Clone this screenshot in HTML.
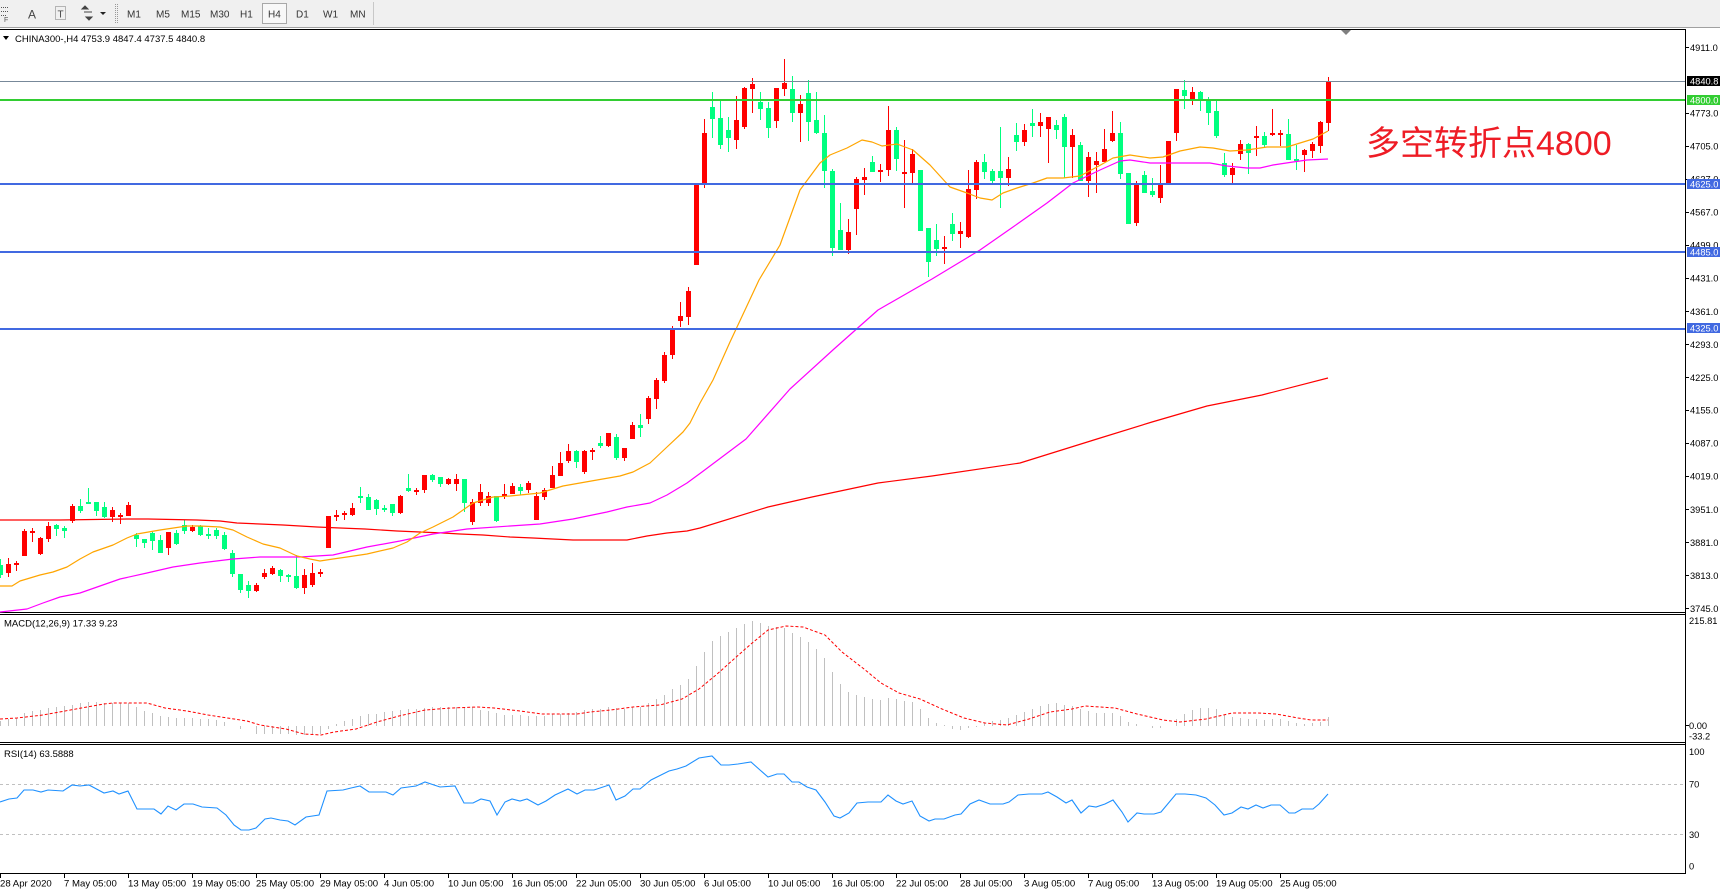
<!DOCTYPE html>
<html><head><meta charset="utf-8"><title>CHINA300 H4</title>
<style>
html,body{margin:0;padding:0;background:#fff;}
body{width:1720px;height:892px;overflow:hidden;}
svg{display:block;}
text{font-family:"Liberation Sans","Noto Sans CJK SC",sans-serif;}
</style></head>
<body>
<svg width="1720" height="892" viewBox="0 0 1720 892" xmlns="http://www.w3.org/2000/svg">
<rect x="0" y="0" width="1720" height="892" fill="#fff"/>
<!-- toolbar -->
<rect x="0" y="0" width="1720" height="27" fill="#f0f0f0"/>
<line x1="0" y1="27.5" x2="1720" y2="27.5" stroke="#a0a0a0"/>
<g fill="none" stroke="#555" stroke-width="1" shape-rendering="crispEdges">
<path d="M1 7.5h8M1 11.5h8M1 15.5h6" stroke-dasharray="1,1"/>
<path d="M55.5 6.5h10v13h-10z" stroke-dasharray="1,1" stroke="#777"/>
<path d="M115.5 4v19" stroke="#999" stroke-dasharray="1,1"/>
<path d="M117.5 4v19" stroke="#999" stroke-dasharray="1,1"/>
<path d="M373.5 2v23" stroke="#c8c8c8"/>
</g>
<text x="4" y="22" font-size="7" fill="#555">F</text>
<text x="28" y="18.5" font-size="12" fill="#444">A</text>
<text x="57.5" y="17.5" font-size="10" fill="#444">T</text>
<path d="M82 9l3-3 3 3zM86 17l3 3 3-3zM84 12h8" fill="#444" stroke="#444" stroke-width="1"/>
<path d="M100 12h6l-3 3z" fill="#222"/>
<rect x="262.5" y="3.5" width="24" height="20" fill="#f8f8f8" stroke="#a8a8a8"/>
<g font-size="10" fill="#333">
<text x="127" y="17.5">M1</text>
<text x="156" y="17.5">M5</text>
<text x="181" y="17.5">M15</text>
<text x="210" y="17.5">M30</text>
<text x="240" y="17.5">H1</text>
<text x="268" y="17.5">H4</text>
<text x="296" y="17.5">D1</text>
<text x="323" y="17.5">W1</text>
<text x="350" y="17.5">MN</text>
</g>
<!-- frames -->
<g stroke="#000" stroke-width="1" shape-rendering="crispEdges" fill="none">
<line x1="0" y1="29.5" x2="1686" y2="29.5"/>
<line x1="0" y1="612.5" x2="1686" y2="612.5"/>
<line x1="0" y1="614.5" x2="1686" y2="614.5"/>
<line x1="0" y1="742.5" x2="1686" y2="742.5"/>
<line x1="0" y1="744.5" x2="1686" y2="744.5"/>
<line x1="0" y1="873.5" x2="1686" y2="873.5"/>
<line x1="1685.5" y1="29" x2="1685.5" y2="874"/>
</g>
<polygon points="1341,30 1351,30 1346,35" fill="#808080"/>
<!-- title -->
<path d="M3 36h6l-3 4z" fill="#000"/>
<text x="15" y="42" font-size="9.5" fill="#000">CHINA300-,H4  4753.9 4847.4 4737.5 4840.8</text>

<!-- candles red -->
<g shape-rendering="crispEdges">
<path fill="none" stroke="#ff0000" stroke-width="1" d="M8.5 558V577M16.5 561V571M24.5 529V556M32.5 528V542M40.5 537V555M48.5 522V542M72.5 504V523M112.5 507V522M120.5 513V524M128.5 502V516M168.5 532V555M192.5 525V532M256.5 583V592M264.5 569V579M272.5 566V575M304.5 569V594M312.5 563V587M320.5 569V577M336.5 510V521M344.5 511V520M352.5 503V516M400.5 495V514M416.5 488V495M424.5 475V493M448.5 478V485M456.5 474V491M472.5 499V525M480.5 484V506M488.5 492V506M504.5 484V499M512.5 483V494M528.5 481V493M536.5 492V520M544.5 488V500M552.5 466V488M560.5 452V476M568.5 444V463M584.5 450V474M592.5 448V460M608.5 433V447M624.5 448V461M632.5 422V439M648.5 396V424M656.5 378V409M664.5 352V383M672.5 326V359M680.5 302V327M688.5 287V325M704.5 119V188M736.5 96V149M744.5 87V129M752.5 78V113M776.5 88V128M784.5 59V96M800.5 95V142M848.5 219V254M856.5 177V235M864.5 168V195M880.5 164V182M888.5 106V176M904.5 140V208M912.5 149V183M944.5 236V264M960.5 222V248M968.5 170V238M976.5 160V199M1008.5 157V186M1024.5 124V146M1040.5 113V137M1048.5 117V163M1072.5 129V178M1088.5 152V197M1096.5 152V193M1104.5 129V162M1112.5 111V142M1136.5 181V226M1160.5 165V203M1176.5 89V141M1192.5 87V105M1232.5 163V184M1240.5 140V160M1256.5 126V156M1272.5 109V136M1280.5 130V146M1304.5 149V172M1312.5 142V158M1320.5 121V153M1328.5 77V131"/>
<path fill="#ff0000" d="M6 564h5V573h-5zM14 563h5V565h-5zM22 531h5V556h-5zM30 531h5V533h-5zM38 538h5V554h-5zM46 526h5V539h-5zM70 506h5V521h-5zM110 510h5V517h-5zM118 515h5V517h-5zM126 505h5V516h-5zM166 532h5V548h-5zM190 527h5V531h-5zM254 585h5V591h-5zM262 573h5V577h-5zM270 568h5V574h-5zM302 575h5V588h-5zM310 573h5V585h-5zM318 572h5V574h-5zM326 516h5V548h-5zM334 515h5V517h-5zM342 513h5V515h-5zM350 508h5V515h-5zM398 496h5V513h-5zM414 490h5V492h-5zM422 475h5V490h-5zM446 479h5V484h-5zM454 479h5V484h-5zM470 502h5V522h-5zM478 492h5V503h-5zM486 496h5V503h-5zM502 494h5V496h-5zM510 486h5V494h-5zM526 483h5V490h-5zM534 496h5V520h-5zM542 490h5V497h-5zM550 475h5V488h-5zM558 463h5V476h-5zM566 451h5V461h-5zM582 451h5V472h-5zM590 450h5V452h-5zM606 433h5V446h-5zM622 448h5V458h-5zM630 425h5V439h-5zM646 398h5V419h-5zM654 380h5V399h-5zM662 355h5V381h-5zM670 329h5V355h-5zM678 316h5V321h-5zM686 291h5V317h-5zM694 184h5V265h-5zM702 133h5V184h-5zM734 120h5V140h-5zM742 88h5V127h-5zM750 84h5V89h-5zM774 88h5V121h-5zM782 83h5V89h-5zM798 104h5V113h-5zM846 232h5V250h-5zM854 179h5V209h-5zM862 177h5V180h-5zM878 170h5V172h-5zM886 130h5V170h-5zM902 172h5V174h-5zM910 154h5V173h-5zM942 247h5V249h-5zM958 231h5V234h-5zM966 189h5V237h-5zM974 162h5V190h-5zM1006 169h5V178h-5zM1022 130h5V142h-5zM1038 122h5V126h-5zM1046 117h5V129h-5zM1070 135h5V147h-5zM1086 157h5V181h-5zM1094 161h5V165h-5zM1102 149h5V162h-5zM1110 133h5V141h-5zM1134 184h5V223h-5zM1158 184h5V198h-5zM1166 141h5V183h-5zM1174 89h5V133h-5zM1190 92h5V99h-5zM1230 168h5V175h-5zM1238 144h5V154h-5zM1254 136h5V138h-5zM1270 133h5V135h-5zM1278 133h5V135h-5zM1302 150h5V155h-5zM1310 144h5V151h-5zM1318 122h5V146h-5zM1326 81h5V123h-5z"/>
<!-- candles green -->
<path fill="none" stroke="#00ff7f" stroke-width="1" d="M0.5 559V578M56.5 524V536M64.5 526V538M80.5 499V513M88.5 488V504M96.5 502V516M104.5 502V518M136.5 533V547M144.5 539V548M152.5 531V550M160.5 535V553M176.5 530V545M184.5 520V534M200.5 525V536M208.5 528V539M216.5 528V539M224.5 532V550M232.5 550V577M240.5 574V593M248.5 581V598M280.5 569V582M288.5 574V582M296.5 555V589M360.5 487V503M368.5 494V510M376.5 499V515M384.5 505V512M392.5 504V516M408.5 474V492M432.5 474V482M440.5 477V487M464.5 479V512M496.5 496V522M520.5 484V495M576.5 450V468M600.5 436V448M616.5 434V460M640.5 414V437M712.5 92V138M720.5 100V149M728.5 117V152M760.5 92V120M768.5 102V138M792.5 76V122M808.5 80V141M816.5 92V134M824.5 115V188M832.5 169V256M840.5 203V250M872.5 156V172M896.5 127V171M928.5 228V277M936.5 224V256M952.5 213V241M984.5 154V179M992.5 169V183M1000.5 127V208M1016.5 123V151M1032.5 109V137M1056.5 120V139M1064.5 114V178M1080.5 142V181M1120.5 122V179M1144.5 171V193M1152.5 178V197M1184.5 80V109M1200.5 91V111M1208.5 97V125M1216.5 100V138M1224.5 153V177M1248.5 143V174M1264.5 132V148M1288.5 119V160M1296.5 145V170"/>
<path fill="#00ff7f" d="M-2 565h5V575h-5zM54 525h5V529h-5zM62 528h5V531h-5zM78 506h5V511h-5zM86 502h5V504h-5zM94 502h5V511h-5zM102 507h5V517h-5zM134 535h5V539h-5zM142 539h5V543h-5zM150 533h5V541h-5zM158 540h5V553h-5zM174 533h5V544h-5zM182 525h5V531h-5zM198 526h5V535h-5zM206 534h5V536h-5zM214 530h5V536h-5zM222 535h5V549h-5zM230 553h5V574h-5zM238 574h5V590h-5zM246 585h5V591h-5zM278 570h5V576h-5zM286 575h5V577h-5zM294 576h5V588h-5zM358 496h5V498h-5zM366 497h5V510h-5zM374 500h5V509h-5zM382 508h5V510h-5zM390 504h5V513h-5zM406 488h5V491h-5zM430 475h5V480h-5zM438 477h5V484h-5zM462 479h5V503h-5zM494 496h5V521h-5zM518 487h5V491h-5zM574 451h5V462h-5zM598 443h5V446h-5zM614 437h5V458h-5zM638 425h5V428h-5zM710 107h5V119h-5zM718 118h5V145h-5zM726 130h5V138h-5zM758 102h5V109h-5zM766 108h5V128h-5zM790 89h5V113h-5zM806 93h5V122h-5zM814 120h5V133h-5zM822 133h5V171h-5zM830 171h5V248h-5zM838 230h5V250h-5zM870 162h5V172h-5zM894 130h5V159h-5zM918 170h5V231h-5zM926 228h5V262h-5zM934 240h5V249h-5zM950 224h5V234h-5zM982 162h5V172h-5zM990 171h5V181h-5zM998 171h5V178h-5zM1014 135h5V142h-5zM1030 123h5V126h-5zM1054 125h5V130h-5zM1062 117h5V147h-5zM1078 145h5V181h-5zM1118 133h5V174h-5zM1126 173h5V224h-5zM1142 175h5V193h-5zM1150 191h5V195h-5zM1182 90h5V96h-5zM1198 92h5V100h-5zM1206 100h5V113h-5zM1214 111h5V136h-5zM1222 163h5V175h-5zM1246 144h5V153h-5zM1262 136h5V145h-5zM1286 134h5V160h-5zM1294 159h5V161h-5z"/>
</g>

<!-- moving averages -->
<g fill="none" stroke-width="1.2" stroke-linejoin="round">
<polyline stroke="#ff0000" points="0,520 60,520 127,519 148,519 197,520 220,521 237,523 260,524 283,525 300,526 317,527 340,528 365,529 397,531 420,532 443,533 460,534 483,535 510,537 533,538 573,540 627,540 647,536 667,533 687,531 700,528 768,507 812,497 878,483 932,476 1020,463 1097,439 1152,422 1207,406 1262,395 1328,378"/>
<polyline stroke="#ff00ff" points="0,612 27,609 43,603 60,597 80,593 100,586 120,579 147,573 173,567 200,563 233,559 260,557 300,557 333,555 367,547 400,541 433,534 467,529 510,526 540,524 573,519 607,512 627,507 650,503 667,495 687,483 702,472 746,439 790,389 834,349 878,310 932,279 980,250 1013,227 1047,203 1073,183 1100,170 1120,161 1130,160 1150,163 1180,163 1210,163 1227,166 1247,168 1260,168 1273,165 1293,162 1307,160 1328,159"/>
<polyline stroke="#ffa500" points="0,586 12,586 20,581 40,575 53,572 67,567 80,559 93,552 113,545 127,538 137,534 160,530 187,526 200,526 220,527 233,530 247,537 263,544 280,548 297,556 310,559 320,561 333,559 347,557 367,554 393,548 407,542 420,533 433,527 453,517 473,503 493,497 510,496 520,495 540,493 563,486 597,480 620,476 633,472 650,463 667,447 683,432 690,423 700,403 713,380 730,342 745,310 759,280 780,245 800,190 820,163 830,155 847,148 862,140 872,142 882,146 897,144 913,150 930,165 950,187 967,193 980,198 992,200 1003,193 1017,188 1033,183 1047,178 1063,178 1080,176 1097,167 1113,158 1130,155 1150,158 1163,157 1180,151 1200,147 1213,148 1230,151 1247,150 1267,147 1287,147 1300,143 1313,139 1328,131"/>
</g>

<!-- horizontal lines -->
<g shape-rendering="crispEdges">
<line x1="0" y1="81.5" x2="1685" y2="81.5" stroke="#778899" stroke-width="1"/>
<rect x="0" y="99" width="1685" height="2" fill="#32cd32"/>
<rect x="0" y="183" width="1685" height="2" fill="#4169e1"/>
<rect x="0" y="251" width="1685" height="2" fill="#4169e1"/>
<rect x="0" y="328" width="1685" height="2" fill="#4169e1"/>
</g>

<text x="1366" y="155" font-size="34" fill="#ee1c25" font-family="Liberation Sans, Noto Sans CJK SC, sans-serif">多空转折点4800</text>

<!-- price axis -->
<g stroke="#000" shape-rendering="crispEdges">
<path d="M1686 47.5h3M1686 113.5h3M1686 146.5h3M1686 179.5h3M1686 212.5h3M1686 245.5h3M1686 278.5h3M1686 311.5h3M1686 344.5h3M1686 377.5h3M1686 410.5h3M1686 443.5h3M1686 476.5h3M1686 509.5h3M1686 542.5h3M1686 575.5h3M1686 608.5h3M1686 725.5h3"/>
</g>
<g font-size="9.3" fill="#000">
<text x="1690" y="50.8">4911.0</text>
<text x="1690" y="116.5">4773.0</text>
<text x="1690" y="149.5">4705.0</text>
<text x="1690" y="182.5">4637.0</text>
<text x="1690" y="215.5">4567.0</text>
<text x="1690" y="248.5">4499.0</text>
<text x="1690" y="281.5">4431.0</text>
<text x="1690" y="315">4361.0</text>
<text x="1690" y="347.8">4293.0</text>
<text x="1690" y="380.8">4225.0</text>
<text x="1690" y="413.5">4155.0</text>
<text x="1690" y="446.5">4087.0</text>
<text x="1690" y="479.5">4019.0</text>
<text x="1690" y="513">3951.0</text>
<text x="1690" y="545.8">3881.0</text>
<text x="1690" y="579">3813.0</text>
<text x="1690" y="612">3745.0</text>
</g>
<rect x="1687" y="76" width="33" height="10" fill="#000"/>
<rect x="1687" y="95" width="33" height="10" fill="#32cd32"/>
<rect x="1687" y="179" width="33" height="10" fill="#4169e1"/>
<rect x="1687" y="247" width="33" height="10" fill="#4169e1"/>
<rect x="1687" y="323" width="33" height="10" fill="#4169e1"/>
<g font-size="9.3" fill="#fff">
<text x="1690" y="84.5">4840.8</text>
<text x="1690" y="103.5">4800.0</text>
<text x="1690" y="187.5">4625.0</text>
<text x="1690" y="255.5">4485.0</text>
<text x="1690" y="331.5">4325.0</text>
</g>

<!-- MACD -->
<path fill="none" stroke="#c0c0c0" stroke-width="1" shape-rendering="crispEdges" d="M0.5 726V721M8.5 726V719M16.5 726V718M24.5 726V713M32.5 726V711M40.5 726V710M48.5 726V708M56.5 726V707M64.5 726V706M72.5 726V705M80.5 726V703M88.5 726V702M96.5 726V702M104.5 726V703M112.5 726V703M120.5 726V703M128.5 726V703M136.5 726V707M144.5 726V711M152.5 726V713M160.5 726V716M168.5 726V717M176.5 726V718M184.5 726V718M192.5 726V718M200.5 726V719M208.5 726V719M216.5 726V720M224.5 726V722M240.5 726V729M256.5 726V734M264.5 726V734M272.5 726V734M280.5 726V734M288.5 726V734M296.5 726V735M304.5 726V735M312.5 726V734M320.5 726V734M328.5 726V729M336.5 726V724M344.5 726V721M352.5 726V719M360.5 726V716M368.5 726V714M376.5 726V714M384.5 726V712M392.5 726V711M400.5 726V710M408.5 726V709M416.5 726V709M424.5 726V708M432.5 726V707M440.5 726V707M448.5 726V707M456.5 726V707M464.5 726V707M472.5 726V707M480.5 726V710M488.5 726V711M496.5 726V713M504.5 726V715M512.5 726V715M520.5 726V715M528.5 726V716M536.5 726V716M544.5 726V716M552.5 726V714M560.5 726V714M568.5 726V713M576.5 726V712M584.5 726V710M592.5 726V709M600.5 726V709M608.5 726V707M616.5 726V708M624.5 726V709M632.5 726V707M640.5 726V707M648.5 726V703M656.5 726V699M664.5 726V695M672.5 726V689M680.5 726V685M688.5 726V679M696.5 726V666M704.5 726V652M712.5 726V641M720.5 726V636M728.5 726V632M736.5 726V628M744.5 726V624M752.5 726V621M760.5 726V623M768.5 726V626M776.5 726V627M784.5 726V628M792.5 726V633M800.5 726V637M808.5 726V642M816.5 726V649M824.5 726V658M832.5 726V672M840.5 726V684M848.5 726V692M856.5 726V695M864.5 726V697M872.5 726V699M880.5 726V700M888.5 726V698M896.5 726V699M904.5 726V701M912.5 726V702M920.5 726V709M928.5 726V718M936.5 726V723M944.5 726V725M952.5 726V729M960.5 726V730M968.5 726V728M976.5 726V727M984.5 726V723M992.5 726V721M1000.5 726V720M1008.5 726V718M1016.5 726V715M1024.5 726V712M1032.5 726V709M1040.5 726V706M1048.5 726V704M1056.5 726V703M1064.5 726V705M1072.5 726V706M1080.5 726V709M1088.5 726V711M1096.5 726V713M1104.5 726V713M1112.5 726V713M1120.5 726V716M1128.5 726V722M1136.5 726V724M1152.5 726V728M1160.5 726V728M1176.5 726V719M1184.5 726V714M1192.5 726V710M1200.5 726V708M1208.5 726V708M1216.5 726V709M1224.5 726V715M1232.5 726V717M1240.5 726V718M1248.5 726V719M1256.5 726V719M1264.5 726V720M1272.5 726V719M1280.5 726V719M1288.5 726V721M1296.5 726V723M1304.5 726V724M1312.5 726V723M1320.5 726V722M1328.5 726V717"/>
<polyline fill="none" stroke="#ff0000" stroke-width="1" stroke-dasharray="3,2" points="0,719 17,718 43,715 65,711 87,707 104,704 113,703 147,703 165,708 187,711 208,715 234,719 247,721 260,725 286,729 304,734 321,735 334,732 356,729 377,722 399,716 425,710 451,708 477,707 494,708 520,711 542,714 577,714 590,712 611,710 633,707 660,705 682,699 699,689 716,675 734,659 751,644 768,630 786,626 803,627 825,635 842,652 864,669 881,683 899,693 920,699 942,709 964,718 985,723 1007,725 1029,719 1050,712 1072,709 1085,706 1115,708 1137,714 1163,720 1180,722 1206,719 1232,713 1258,713 1276,714 1298,718 1311,720 1328,720"/>
<text x="4" y="626.5" font-size="9.5" fill="#000">MACD(12,26,9) 17.33 9.23</text>
<g font-size="9.3" fill="#000">
<text x="1689" y="624">215.81</text>
<text x="1689" y="729">0.00</text>
<text x="1689" y="739.5">-33.2</text>
</g>

<!-- RSI -->
<g stroke="#c0c0c0" stroke-width="1" stroke-dasharray="3,3" shape-rendering="crispEdges">
<line x1="0" y1="784.5" x2="1685" y2="784.5"/>
<line x1="0" y1="834.5" x2="1685" y2="834.5"/>
</g>
<polyline fill="none" stroke="#1e90ff" stroke-width="1.1" points="0,802 9,799 17,798 24,790 33,790 41,792 48,790 63,791 72,785 80,786 89,785 104,793 113,791 119,794 128,791 137,809 147,809 154,809 161,814 168,806 176,810 184,804 193,804 202,807 217,808 226,815 234,825 241,830 249,830 256,828 265,819 271,818 280,820 288,821 295,825 306,817 319,815 327,791 343,790 351,788 360,786 369,792 386,792 393,795 401,788 416,786 425,782 434,785 440,787 455,786 464,803 473,803 481,799 490,801 497,815 505,802 512,799 520,801 527,799 538,805 546,801 555,795 568,789 577,794 585,790 594,790 609,785 616,800 625,796 633,789 640,789 651,780 661,775 669,771 677,769 686,766 699,758 712,756 721,765 729,765 738,764 751,762 760,770 768,777 777,774 784,774 792,782 799,782 807,787 816,790 825,802 834,816 840,818 849,813 857,803 868,802 881,802 888,795 896,801 903,804 912,801 920,816 929,821 935,819 944,819 955,815 961,814 970,804 979,800 990,804 1003,804 1009,802 1018,795 1029,794 1042,794 1048,792 1057,797 1066,803 1072,800 1081,813 1089,806 1096,807 1105,804 1113,800 1122,812 1128,822 1137,813 1144,814 1154,814 1161,812 1176,794 1185,794 1196,795 1206,798 1215,805 1224,815 1232,813 1241,807 1248,809 1256,805 1263,808 1271,805 1280,805 1289,813 1295,813 1302,809 1313,809 1319,804 1328,794"/>
<text x="4" y="757" font-size="9.5" fill="#000">RSI(14) 63.5888</text>
<g font-size="9.3" fill="#000">
<text x="1689" y="755">100</text>
<text x="1689" y="787.5">70</text>
<text x="1689" y="837.8">30</text>
<text x="1689" y="869.5">0</text>
</g>

<!-- time axis -->
<path stroke="#000" stroke-width="1" shape-rendering="crispEdges" d="M0.5 874v4M64.5 874v4M128.5 874v4M192.5 874v4M256.5 874v4M320.5 874v4M384.5 874v4M448.5 874v4M512.5 874v4M576.5 874v4M640.5 874v4M704.5 874v4M768.5 874v4M832.5 874v4M896.5 874v4M960.5 874v4M1024.5 874v4M1088.5 874v4M1152.5 874v4M1216.5 874v4M1280.5 874v4"/>
<g font-size="9.6" fill="#000">
<text x="0" y="886.5">28 Apr 2020</text>
<text x="64" y="886.5">7 May 05:00</text>
<text x="128" y="886.5">13 May 05:00</text>
<text x="192" y="886.5">19 May 05:00</text>
<text x="256" y="886.5">25 May 05:00</text>
<text x="320" y="886.5">29 May 05:00</text>
<text x="384" y="886.5">4 Jun 05:00</text>
<text x="448" y="886.5">10 Jun 05:00</text>
<text x="512" y="886.5">16 Jun 05:00</text>
<text x="576" y="886.5">22 Jun 05:00</text>
<text x="640" y="886.5">30 Jun 05:00</text>
<text x="704" y="886.5">6 Jul 05:00</text>
<text x="768" y="886.5">10 Jul 05:00</text>
<text x="832" y="886.5">16 Jul 05:00</text>
<text x="896" y="886.5">22 Jul 05:00</text>
<text x="960" y="886.5">28 Jul 05:00</text>
<text x="1024" y="886.5">3 Aug 05:00</text>
<text x="1088" y="886.5">7 Aug 05:00</text>
<text x="1152" y="886.5">13 Aug 05:00</text>
<text x="1216" y="886.5">19 Aug 05:00</text>
<text x="1280" y="886.5">25 Aug 05:00</text>
</g>
</svg>
</body></html>
